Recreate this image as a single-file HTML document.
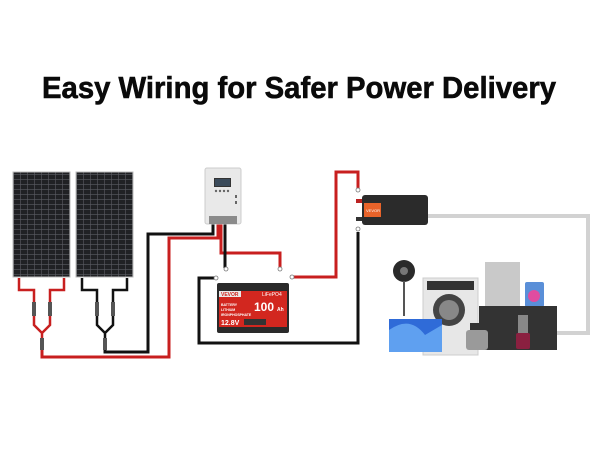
<!DOCTYPE html>
<html><head><style>body{margin:0;background:#fff}svg{display:block}</style></head><body>
<svg width="600" height="450" viewBox="0 0 600 450" xmlns="http://www.w3.org/2000/svg" font-family="Liberation Sans, sans-serif">
<rect width="600" height="450" fill="#fff"/>
<text x="42" y="98" font-size="31" font-weight="bold" textLength="514" lengthAdjust="spacingAndGlyphs" fill="#0a0a0a" stroke="#0a0a0a" stroke-width="0.6">Easy Wiring for Safer Power Delivery</text>
<defs>
<pattern id="cells" width="7" height="5" patternUnits="userSpaceOnUse">
<rect width="7" height="5" fill="#202124"/><path d="M0 4.6H7M6.6 0V5" stroke="#5a5c62" stroke-width="0.6"/>
</pattern>
</defs>
<!-- panels -->
<rect x="13" y="172" width="57" height="105" fill="url(#cells)" stroke="#bbb" stroke-width="1"/>
<rect x="76" y="172" width="57" height="105" fill="url(#cells)" stroke="#bbb" stroke-width="1"/>
<!-- panel wires -->
<g fill="none" stroke-width="2.5">
<path d="M19 278V290H34V305M64 278V290H50V305" stroke="#c81f1f"/>
<path d="M34 315V325L42 333L50 325V315M42 333V340" stroke="#c81f1f"/>
<path d="M82 278V290H97V305M127 278V290H113V305" stroke="#111"/>
<path d="M97 315V325L105 333L113 325V315M105 333V340" stroke="#111"/>
</g>
<g fill="#555"><rect x="32" y="302" width="4" height="14"/><rect x="48" y="302" width="4" height="14"/><rect x="95" y="302" width="4" height="14"/><rect x="111" y="302" width="4" height="14"/><rect x="40" y="338" width="4" height="12"/><rect x="103" y="338" width="4" height="12"/></g>
<!-- main wires -->
<g fill="none" stroke-width="3">
<path d="M105 350V352H148V234H213V222" stroke="#111"/>
<path d="M42 350V357H169V238H218V222" stroke="#c81f1f"/>
<path d="M221 222V253H280V268" stroke="#c81f1f"/>
<path d="M225 222V268" stroke="#111"/>
<path d="M217 278H199V343H358V232" stroke="#111"/>
<path d="M292 277H336V172H358V190" stroke="#c81f1f"/>
<path d="M428 216H588V333H557" stroke="#d2d2d2" stroke-width="4"/>
</g>
<g fill="#fff" stroke="#777" stroke-width="0.8"><circle cx="226" cy="269" r="2"/><circle cx="280" cy="269" r="2"/><circle cx="216" cy="278" r="2"/><circle cx="292" cy="277" r="2"/><circle cx="358" cy="190" r="2"/><circle cx="358" cy="229" r="2"/></g>
<!-- controller -->
<rect x="205" y="168" width="36" height="56" rx="2" fill="#e9e9e9" stroke="#ccc"/>
<rect x="209" y="216" width="28" height="8" fill="#8b8b8b"/>
<rect x="214" y="178" width="17" height="9" fill="#333"/><rect x="215" y="179" width="15" height="7" fill="#3b4b5b"/>
<g fill="#666"><circle cx="216" cy="191" r="1.2"/><circle cx="220" cy="191" r="1.2"/><circle cx="224" cy="191" r="1.2"/><circle cx="228" cy="191" r="1.2"/><rect x="235" y="195" width="2" height="3"/><rect x="235" y="201" width="2" height="3"/></g>
<!-- battery -->
<rect x="217" y="283" width="72" height="50" rx="2" fill="#2a2a2a"/>
<rect x="219" y="291" width="68" height="36" fill="#d2271f"/>
<rect x="219" y="291" width="22" height="6" fill="#e9e9e9"/>
<text x="221" y="296" font-size="5" font-weight="bold" fill="#d2271f">VEVOR</text>
<text x="262" y="296" font-size="5" fill="#fff">LiFePO4</text>
<text x="221" y="306" font-size="3.5" font-weight="bold" fill="#fff">BATTERY</text>
<text x="221" y="311" font-size="3.5" font-weight="bold" fill="#fff">LITHIUM</text>
<text x="221" y="316" font-size="3.5" font-weight="bold" fill="#fff">IRONPHOSPHATE</text>
<text x="254" y="311" font-size="12" font-weight="bold" fill="#fff">100</text>
<text x="277" y="311" font-size="5" font-weight="bold" fill="#fff">Ah</text>
<text x="221" y="325" font-size="7" font-weight="bold" fill="#fff">12.8V</text>
<rect x="244" y="319" width="22" height="6" fill="#333"/>
<!-- inverter -->
<rect x="362" y="195" width="66" height="30" rx="3" fill="#2b2b2b"/>
<rect x="364" y="203" width="17" height="14" fill="#e8632a"/>
<text x="366" y="212" font-size="4" fill="#fff">VEVOR</text>
<rect x="356" y="199" width="6" height="4" fill="#b22"/><rect x="356" y="217" width="6" height="4" fill="#333"/>
<!-- appliances -->
<rect x="393" y="260" width="22" height="22" rx="11" fill="#2a2a2a"/><circle cx="404" cy="271" r="4" fill="#777"/>
<rect x="403" y="281" width="2" height="35" fill="#555"/>
<rect x="423" y="278" width="55" height="77" fill="#e7e7e7" stroke="#ccc"/>
<rect x="427" y="281" width="47" height="9" fill="#333"/>
<circle cx="449" cy="310" r="16" fill="#444"/><circle cx="449" cy="310" r="10" fill="#888"/>
<rect x="485" y="262" width="35" height="50" fill="#c9c9c9"/>
<rect x="525" y="282" width="19" height="25" rx="2" fill="#5a8fd8"/><circle cx="534" cy="296" r="6" fill="#e04ca0"/>
<rect x="479" y="306" width="78" height="44" fill="#333"/>
<rect x="389" y="319" width="53" height="33" fill="#2f6bd8"/><path d="M389 330Q410 315 425 335L442 325V352H389Z" fill="#5fa0f0"/>
<rect x="466" y="330" width="22" height="20" rx="3" fill="#9a9a9a"/><rect x="470" y="323" width="14" height="7" fill="#333"/>
<rect x="518" y="315" width="10" height="18" fill="#888"/><rect x="516" y="333" width="14" height="16" rx="2" fill="#8a2040"/>
</svg>
</body></html>
